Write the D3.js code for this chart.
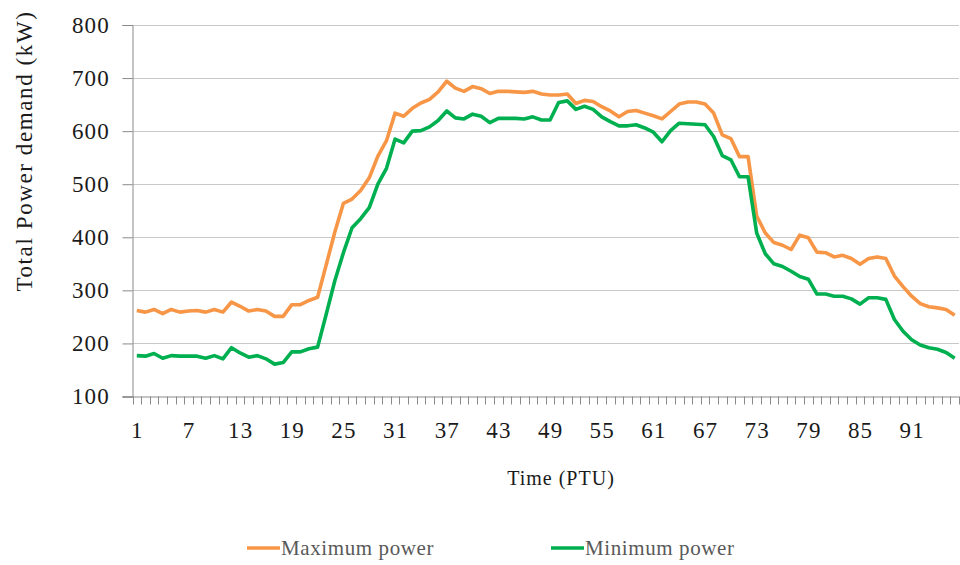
<!DOCTYPE html>
<html>
<head>
<meta charset="utf-8">
<script src="https://cdn.jsdelivr.net/npm/d3@7"></script>
<style>
  html, body { margin: 0; padding: 0; background: #fff; }
  svg { display: block; }
</style>
</head>
<body>
<svg id="chart" width="960" height="565"></svg>
<script>
const ptu = d3.range(1, 97);
const tickLabels = [1, 7, 13, 19, 25, 31, 37, 43, 49, 55, 61, 67, 73, 79, 85, 91];
const yTicks = [100, 200, 300, 400, 500, 600, 700, 800];
const seriesNames = ["Maximum power", "Minimum power"];

const maxPower = [
  262, 259, 264, 256, 264, 259, 261, 262, 259, 264,
  259, 278, 270, 261, 264, 261, 251, 251, 273, 273,
  281, 287, 348, 410, 464, 472, 488, 512, 553, 582,
  634, 628, 643, 653, 660, 674, 694, 681, 675, 684,
  680, 671, 675, 675, 674, 673, 675, 670, 668, 668,
  670, 652, 658, 656, 646, 638, 627, 637, 639, 634,
  629, 623, 637, 651, 655, 655, 651, 634, 593, 586,
  552, 552, 440, 408, 390, 385, 377, 404, 399, 372,
  371, 363, 366, 360, 349, 360, 363, 360, 327, 307,
  289, 275, 269, 267, 264, 253
];
const minPower = [
  177, 176, 181, 172, 177, 176, 176, 176, 172, 177,
  171, 192, 182, 174, 177, 171, 161, 164, 184, 184,
  190, 193, 255, 318, 371, 418, 435, 456, 500, 530,
  585, 578, 600, 601, 608, 620, 638, 625, 623, 632,
  628, 616, 624, 624, 624, 623, 627, 621, 621, 654,
  657, 641, 647, 641, 627, 618, 610, 610, 612, 606,
  598, 580, 601, 615, 614, 613, 612, 590, 554, 546,
  514, 514, 408, 369, 350, 345, 336, 326, 321, 293,
  293, 289, 289, 284, 274, 286, 286, 283, 245, 223,
  207, 197, 192, 189, 183, 172
];

const colors = ["#F79646", "#00B050"];
const font = "'Liberation Serif', 'Times New Roman', serif";

const svg = d3.select("#chart");
const plotLeft = 132.5, plotRight = 959, plotTop = 25, plotBottom = 396.5;

const x = d3.scaleBand().domain(ptu).range([plotLeft, plotRight]).paddingInner(0).paddingOuter(0);
const y = d3.scaleLinear().domain([100, 800]).range([plotBottom, plotTop]);
const cx = d => x(d) + x.bandwidth() / 2;

// gridlines
svg.append("g").selectAll("line").data(yTicks.filter(v => v !== 100)).join("line")
  .attr("x1", plotLeft).attr("x2", plotRight)
  .attr("y1", d => Math.round(y(d)) + 0.5).attr("y2", d => Math.round(y(d)) + 0.5)
  .attr("stroke", "#c8c8c8").attr("stroke-width", 1);

// y axis
const yAxis = d3.axisLeft(y).tickValues(yTicks).tickSize(10).tickFormat("");
const gy = svg.append("g").attr("transform", `translate(${plotLeft},0)`).call(yAxis);
gy.select(".domain").attr("stroke", "#8a8a8a");
gy.selectAll(".tick line").attr("stroke", "#8a8a8a");

// y labels
svg.append("g").selectAll("text").data(yTicks).join("text")
  .attr("x", 110).attr("y", d => y(d))
  .attr("text-anchor", "end").attr("dominant-baseline", "central")
  .attr("font-family", font).attr("font-size", 23).attr("letter-spacing", 1.2)
  .attr("fill", "#1a1a1a")
  .text(d => d);

// x axis line + boundary ticks
const boundaries = d3.range(0, 97).map(k => plotLeft + k * x.bandwidth());
svg.append("line").attr("x1", plotLeft - 10).attr("x2", plotRight)
  .attr("y1", plotBottom + 0.5).attr("y2", plotBottom + 0.5).attr("stroke", "#8a8a8a");
svg.append("g").selectAll("line").data(boundaries).join("line")
  .attr("x1", d => Math.round(d) + 0.5).attr("x2", d => Math.round(d) + 0.5)
  .attr("y1", plotBottom).attr("y2", plotBottom + 8)
  .attr("stroke", "#8a8a8a");

// x labels
svg.append("g").selectAll("text").data(tickLabels).join("text")
  .attr("x", d => cx(d) + 0.6).attr("y", 438)
  .attr("text-anchor", "middle")
  .attr("font-family", font).attr("font-size", 23).attr("letter-spacing", 1.2)
  .attr("fill", "#1a1a1a")
  .text(d => d);

// lines
const line = d3.line().x((d, i) => cx(ptu[i])).y(d => y(d));
[maxPower, minPower].forEach((s, k) => {
  svg.append("path").datum(s)
    .attr("d", line)
    .attr("fill", "none")
    .attr("stroke", colors[k])
    .attr("stroke-width", 3.6)
    .attr("stroke-linejoin", "round")
    .attr("stroke-linecap", "butt");
});

// axis titles
svg.append("text")
  .attr("x", 561).attr("y", 485)
  .attr("text-anchor", "middle")
  .attr("font-family", font).attr("font-size", 20).attr("letter-spacing", 1)
  .attr("fill", "#1a1a1a")
  .text("Time (PTU)");

svg.append("text")
  .attr("transform", "translate(32,151) rotate(-90)")
  .attr("text-anchor", "middle")
  .attr("font-family", font).attr("font-size", 23).attr("letter-spacing", 1.6)
  .attr("fill", "#1a1a1a")
  .text("Total Power demand (kW)");

// legend
const legendX = [247, 551];
seriesNames.forEach((name, k) => {
  svg.append("line")
    .attr("x1", legendX[k]).attr("x2", legendX[k] + 33)
    .attr("y1", 548).attr("y2", 548)
    .attr("stroke", colors[k]).attr("stroke-width", 3.6);
  svg.append("text")
    .attr("x", legendX[k] + 34).attr("y", 555)
    .attr("font-family", font).attr("font-size", 21).attr("letter-spacing", 0.6)
    .attr("fill", "#595959")
    .text(name);
});
</script>
</body>
</html>
